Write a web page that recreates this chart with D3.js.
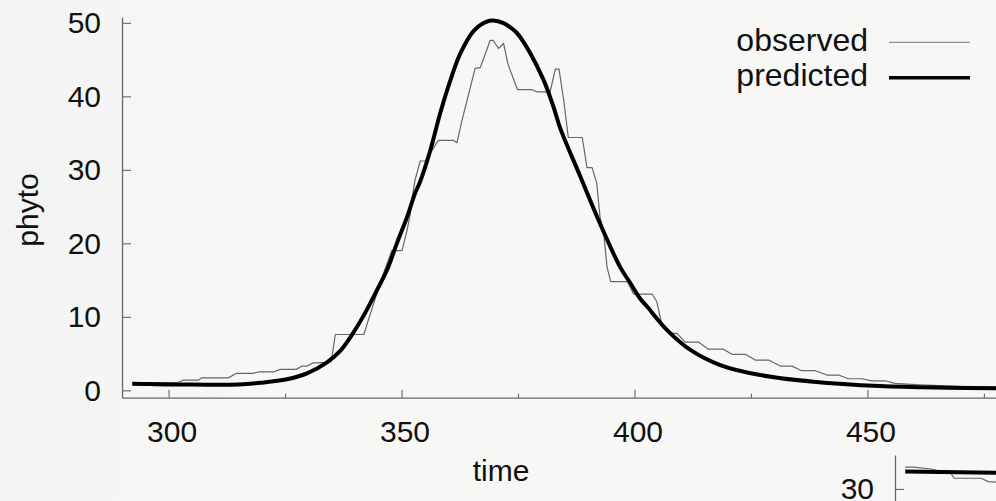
<!DOCTYPE html>
<html>
<head>
<meta charset="utf-8">
<script src="https://cdn.jsdelivr.net/npm/d3@7"></script>
<style>
  body { margin: 0; background: #f7f7f7; }
  text { font-family: "Liberation Sans", Arial, Helvetica, sans-serif; fill: #111; }
</style>
</head>
<body>
<div id="chart"></div>
<script>
// data
var obsTime = [292.2, 297.8, 302.1, 303.2, 306.4, 307.2, 312.8, 314.5, 318.0, 319.3, 322.5, 324.0, 327.4, 328.7, 329.8, 330.8, 333.6, 334.9, 335.8, 341.9, 344.0, 345.9, 347.9, 350.1, 351.2, 351.9, 352.2, 352.9, 354.0, 355.1, 357.9, 361.2, 361.9, 363.0, 365.8, 366.9, 368.0, 369.0, 369.7, 370.8, 371.9, 372.8, 373.3, 374.9, 378.0, 379.1, 381.9, 383.0, 383.8, 384.8, 385.8, 388.8, 389.8, 390.9, 391.9, 392.6, 393.4, 394.1, 394.9, 398.5, 399.8, 403.8, 404.8, 405.2, 405.9, 407.3, 409.1, 410.9, 413.7, 415.9, 419.1, 420.9, 423.8, 425.9, 428.8, 431.3, 433.8, 435.9, 438.8, 441.3, 443.8, 445.9, 448.8, 450.9, 453.8, 455.9, 461.3, 469.9, 477.6];
var obsValue = [1.0, 1.05, 1.1, 1.4, 1.4, 1.7, 1.7, 2.3, 2.3, 2.5, 2.5, 2.85, 2.85, 3.3, 3.3, 3.7, 3.8, 3.9, 7.6, 7.6, 11.8, 15.5, 19.0, 19.0, 21.8, 24.1, 25.9, 28.6, 31.2, 31.2, 34.0, 34.0, 33.7, 36.8, 43.8, 43.9, 45.8, 47.6, 47.6, 46.5, 47.2, 44.5, 43.6, 40.9, 40.9, 40.6, 40.6, 43.7, 43.7, 39.5, 34.4, 34.4, 30.3, 30.3, 28.2, 23.6, 21.4, 16.8, 14.8, 14.8, 13.1, 13.1, 12.05, 10.9, 8.9, 7.75, 7.75, 6.57, 6.57, 5.6, 5.6, 4.9, 4.9, 4.12, 4.12, 3.3, 3.3, 2.67, 2.67, 2.08, 2.08, 1.58, 1.58, 1.3, 1.3, 0.95, 0.75, 0.55, 0.45];

var predTime = [292.2, 296, 300, 305, 310, 315, 319.7, 325.4, 329.7, 334.0, 336.9, 339.0, 341.9, 344.7, 346.9, 349.0, 351.2, 352.9, 354.0, 356.2, 358.3, 360.5, 362.6, 365.5, 368.3, 369.7, 371.9, 373.3, 374.8, 377.6, 380.5, 382.6, 384.1, 388.4, 392.6, 396.9, 399.1, 401.2, 402.7, 407.0, 412.0, 418.4, 427.0, 438.4, 452.7, 467.0, 477.6];
var predValue = [0.9, 0.85, 0.8, 0.78, 0.76, 0.8, 1.03, 1.5, 2.3, 3.8, 5.4, 7.2, 10.2, 13.6, 16.4, 20.0, 23.6, 26.8, 28.4, 32.7, 37.7, 42.2, 45.8, 48.9, 50.15, 50.3, 49.95, 49.4, 48.6, 45.9, 42.2, 38.6, 35.6, 29.05, 22.7, 16.8, 14.6, 12.5, 11.4, 8.2, 5.5, 3.44, 2.08, 1.17, 0.58, 0.35, 0.27];

// the next panel down, only its top corner shows
var obs2Time = [292.2, 294.1, 297.7, 302.0, 302.7, 308.5, 310.0, 312.0];
var obs2Value = [32.95, 32.95, 32.7, 32.1, 31.45, 31.45, 31.0, 30.9];
var pred2Time = [292.2, 300, 312.0];
var pred2Value = [32.35, 32.3, 32.2];

var xMajor = [300, 350, 400, 450];
var xMinor = [325, 375, 425, 475];
var yTicks = [0, 10, 20, 30, 40, 50];
var y2Ticks = [30];

var legendItems = [
  { name: 'observed', color: '#777', width: 1 },
  { name: 'predicted', color: '#000', width: 3.5 }
];

var W = 996, H = 501;
var x = d3.scaleLinear().domain([290, 477.6]).range([122, 996]);
var y = d3.scaleLinear().domain([-1, 50.75]).range([397.7, 17.3]);
var x2 = d3.scaleLinear().domain([290, 477.6]).range([895, 1769]);
var y2 = d3.scaleLinear().domain([25, 34.6]).range([525.8, 455]);

var svg = d3.select('#chart').append('svg').attr('width', W).attr('height', H);

// faint tint on the left of the backdrop
var grad = svg.append('defs').append('linearGradient').attr('id', 'bg').attr('x1', 0).attr('x2', 1).attr('y1', 0).attr('y2', 0);
grad.append('stop').attr('offset', 0).attr('stop-color', '#f2f4f3');
grad.append('stop').attr('offset', 0.25).attr('stop-color', '#f7f7f6');
grad.append('stop').attr('offset', 1).attr('stop-color', '#f7f7f7');
svg.append('rect').attr('width', W).attr('height', H).attr('fill', 'url(#bg)');

var styleAxis = function(g, size) {
  g.select('.domain').attr('stroke', '#666').attr('stroke-width', 1.3);
  g.selectAll('.tick line').attr('stroke', '#666').attr('stroke-width', 1.1);
  g.selectAll('.tick text').attr('font-size', size).attr('fill', '#111')
    .attr('font-family', '"Liberation Sans", Arial, sans-serif');
};

var toPts = function(ts, vs) { return ts.map(function(t, i) { return [t, vs[i]]; }); };

// main panel
var yAxis = d3.axisLeft(y).tickValues(yTicks).tickSizeInner(-9).tickSizeOuter(0).tickPadding(21);
svg.append('g').attr('transform', 'translate(122,0)').call(yAxis).call(styleAxis, 30)
  .selectAll('.tick text').attr('dy', '0.33em');

var xAxis = d3.axisBottom(x).tickValues(xMajor).tickSizeInner(-8).tickSizeOuter(0).tickPadding(23);
svg.append('g').attr('transform', 'translate(0,397.7)').call(xAxis).call(styleAxis, 30)
  .selectAll('.tick text').attr('dx', 3);

var xMinorAxis = d3.axisBottom(x).tickValues(xMinor).tickSizeInner(-4).tickSizeOuter(0).tickFormat('');
svg.append('g').attr('transform', 'translate(0,397.7)').call(xMinorAxis).call(styleAxis, 30)
  .select('.domain').remove();

var line = d3.line().x(function(d) { return x(d[0]); }).y(function(d) { return y(d[1]); });
var smooth = d3.line().curve(d3.curveCatmullRom.alpha(0.5)).x(function(d) { return x(d[0]); }).y(function(d) { return y(d[1]); });

svg.append('path').datum(toPts(obsTime, obsValue)).attr('d', line)
  .attr('fill', 'none').attr('stroke', '#666').attr('stroke-width', 1.2).attr('stroke-linejoin', 'round');
svg.append('path').datum(toPts(predTime, predValue)).attr('d', smooth)
  .attr('fill', 'none').attr('stroke', '#000').attr('stroke-width', 4).attr('stroke-linejoin', 'round');

// axis titles
svg.append('text').attr('x', 501).attr('y', 481).attr('text-anchor', 'middle').attr('font-size', 30).text('time');
svg.append('text').attr('transform', 'translate(38,210) rotate(-90)').attr('text-anchor', 'middle')
  .attr('font-size', 30).text('phyto');

// legend
var leg = svg.append('g').selectAll('g').data(legendItems).enter().append('g')
  .attr('transform', function(d, i) { return 'translate(0,' + (i * 35.4) + ')'; });
leg.append('text').attr('x', 868).attr('y', 51).attr('text-anchor', 'end').attr('font-size', 32)
  .text(function(d) { return d.name; });
leg.append('line').attr('x1', 889).attr('x2', 970).attr('y1', 42.3).attr('y2', 42.3)
  .attr('stroke', function(d) { return d.color; })
  .attr('stroke-width', function(d) { return d.width; });

// second panel, cut off by the frame
var y2Axis = d3.axisLeft(y2).tickValues(y2Ticks).tickSizeInner(-9).tickSizeOuter(0).tickPadding(21);
svg.append('g').attr('transform', 'translate(895,0)').call(y2Axis).call(styleAxis, 30)
  .selectAll('.tick text').attr('dy', '0.33em');

var line2 = d3.line().x(function(d) { return x2(d[0]); }).y(function(d) { return y2(d[1]); });
svg.append('path').datum(toPts(obs2Time, obs2Value)).attr('d', line2)
  .attr('fill', 'none').attr('stroke', '#666').attr('stroke-width', 1.2);
svg.append('path').datum(toPts(pred2Time, pred2Value)).attr('d', line2)
  .attr('fill', 'none').attr('stroke', '#000').attr('stroke-width', 4);
</script>
</body>
</html>
